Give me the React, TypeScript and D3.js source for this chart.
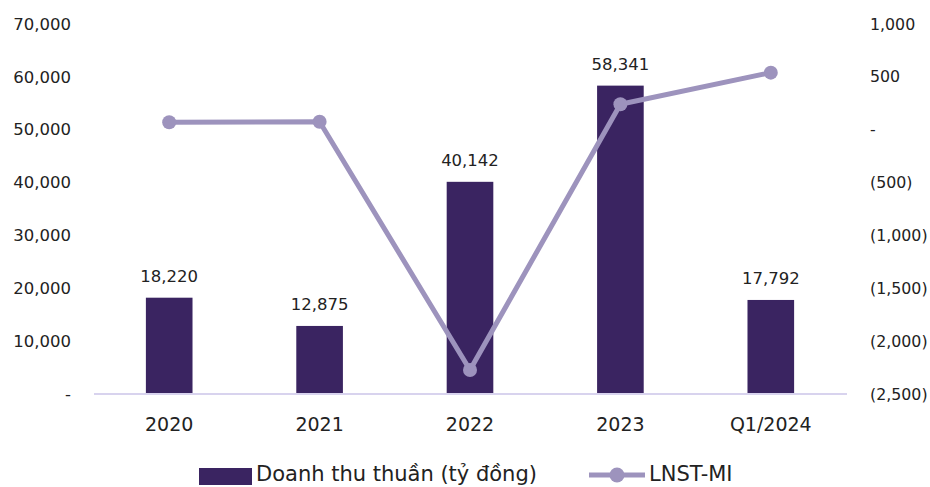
import * as d3 from "d3";

const categories = ["2020", "2021", "2022", "2023", "Q1/2024"];
const revenue = [18220, 12875, 40142, 58341, 17792];
const profit = [70, 75, -2273, 241, 540];
const leftTicks = [0, 10000, 20000, 30000, 40000, 50000, 60000, 70000];
const rightTicks = [-2500, -2000, -1500, -1000, -500, 0, 500, 1000];
const seriesNames = ["Doanh thu thuần (tỷ đồng)", "LNST-MI"];

const W = 930;
const H = 487;
const barColor = "#3a2461";
const lineColor = "#9d93bd";
const font = "'DejaVu Sans', 'Noto Sans', sans-serif";

const fmt = d3.format(",");
const fmtRight = (v: number) => (v === 0 ? "-" : v < 0 ? `(${fmt(-v)})` : fmt(v));

export default function App() {
  const x = d3.scaleBand<string>().domain(categories).range([94, 846]).paddingInner(0.69).paddingOuter(0.345);
  const yL = d3.scaleLinear().domain([0, 70000]).range([394, 24]);
  const yR = d3.scaleLinear().domain([-2500, 1000]).range([394, 24]);
  const cx = (c: string) => (x(c) ?? 0) + x.bandwidth() / 2;

  const line = d3
    .line<number>()
    .x((_, i) => cx(categories[i]))
    .y((d) => yR(d));

  return (
    <svg width={W} height={H} style={{ position: "absolute", left: 0, top: 0, fontFamily: font }}>
      <rect width={W} height={H} fill="#fff" />
      {leftTicks.map((t) => (
        <text key={t} x={71} y={yL(t)} dy="0.35em" textAnchor="end" fontSize={16.5} fill="#222">
          {t === 0 ? "-" : fmt(t)}
        </text>
      ))}
      {rightTicks.map((t) => (
        <text key={t} x={870} y={yR(t)} dy="0.35em" fontSize={15.8} fill="#222">
          {fmtRight(t)}
        </text>
      ))}
      {categories.map((c, i) => (
        <rect key={c} x={x(c)} y={yL(revenue[i])} width={x.bandwidth()} height={yL(0) - yL(revenue[i])} fill={barColor} />
      ))}
      <line x1={94} x2={847} y1={yL(0)} y2={yL(0)} stroke="#d8d3ee" strokeWidth={2} />
      {categories.map((c, i) => (
        <text key={c} x={cx(c)} y={yL(revenue[i]) - 16} textAnchor="middle" fontSize={16.5} fill="#222">
          {fmt(revenue[i])}
        </text>
      ))}
      <path d={line(profit) ?? ""} fill="none" stroke={lineColor} strokeWidth={5} strokeLinejoin="round" />
      {profit.map((v, i) => (
        <circle key={i} cx={cx(categories[i])} cy={yR(v)} r={7} fill={lineColor} />
      ))}
      {categories.map((c) => (
        <text key={c} x={cx(c)} y={431} textAnchor="middle" fontSize={19} fill="#222">
          {c}
        </text>
      ))}
      <g>
        <rect x={199} y={468} width={53} height={17} fill={barColor} />
        <text x={256} y={481} fontSize={21} fill="#222">
          {seriesNames[0]}
        </text>
        <line x1={589} x2={645} y1={475} y2={475} stroke={lineColor} strokeWidth={5} />
        <circle cx={617} cy={475} r={7.5} fill={lineColor} />
        <text x={649} y={481} fontSize={21} fill="#222">
          {seriesNames[1]}
        </text>
      </g>
    </svg>
  );
}
